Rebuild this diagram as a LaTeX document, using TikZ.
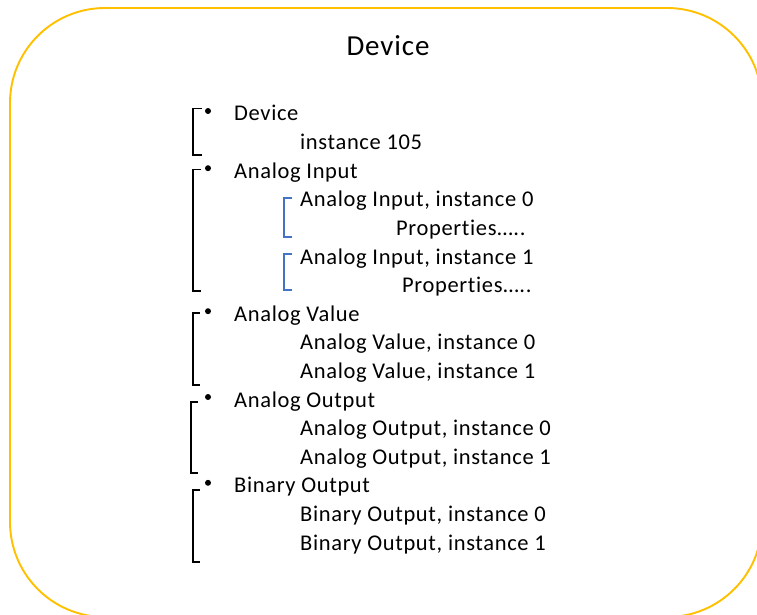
\documentclass[tikz,border=0pt]{standalone}
\usepackage{fontspec}
\setmainfont{Carlito}[Ligatures=NoCommon]
\newfontfamily\bodyfont{Carlito}[Ligatures=NoCommon,LetterSpace=2.9]
\newfontfamily\titlefont{Carlito}[Ligatures=NoCommon,LetterSpace=3.0]
\definecolor{frameyellow}{HTML}{FFC000}
\definecolor{bracketblue}{HTML}{4472C4}
\begin{document}
\begin{tikzpicture}[x=1pt,y=-1pt,
  body/.style={anchor=base west,inner sep=0pt,font=\bodyfont\fontsize{22.5}{26}\selectfont},
  title/.style={anchor=base,inner sep=0pt,font=\titlefont\fontsize{29}{33}\selectfont},
  bul/.style={circle,fill=black,inner sep=0pt,minimum size=6pt},
  blk/.style={draw=black,line width=1.4pt},
  blu/.style={draw=bracketblue,line width=1.4pt}]
\useasboundingbox (0,0) rectangle (757,615);
\begin{scope}
\clip (0,0) rectangle (757,615);
\draw[frameyellow,line width=1.9pt,rounded corners=95pt] (10,8) rectangle (762,617);
\end{scope}
\node[title] (ttl) at (388,55.7) {Device};
% items
\def\yy#1{121+#1*28.6}
\node[body] (l0) at (234,{\yy{0}}) {Device};
\node[body] (l1) at (300,{\yy{1}}) {instance 105};
\node[body] (l2) at (234,{\yy{2}}) {Analog Input};
\node[body] (l3) at (300,{\yy{3}}) {Analog Input, instance 0};
\node[body] (l4) at (396,{\yy{4}}) {Properties…..};
\node[body] (l5) at (300,{\yy{5}}) {Analog Input, instance 1};
\node[body] (l6) at (402,{\yy{6}}) {Properties…..};
\node[body] (l7) at (234,{\yy{7}}) {Analog Value};
\node[body] (l8) at (300,{\yy{8}}) {Analog Value, instance 0};
\node[body] (l9) at (300,{\yy{9}}) {Analog Value, instance 1};
\node[body] (l10) at (234,{\yy{10}}) {Analog Output};
\node[body] (l11) at (300,{\yy{11}}) {Analog Output, instance 0};
\node[body] (l12) at (300,{\yy{12}}) {Analog Output, instance 1};
\node[body] (l13) at (234,{\yy{13}}) {Binary Output};
\node[body] (l14) at (300,{\yy{14}}) {Binary Output, instance 0};
\node[body] (l15) at (300,{\yy{15}}) {Binary Output, instance 1};
% bullets
\node[bul] (b0) at (208,111) {};
\node[bul] (b1) at (208,{111+2*28.6}) {};
\node[bul] (b2) at (208,{111+7*28.6}) {};
\node[bul] (b3) at (208,{111+10*28.6}) {};
\node[bul] (b4) at (208,{111+13*28.6}) {};
% black brackets
\draw[blk] (202,108.5) -- (193,108.5) -- (193,155) -- (202,155);
\draw[blk] (201,169.5) -- (193,169.5) -- (193,291) -- (201,291);
\draw[blk] (200,313) -- (193,313) -- (193,385) -- (200,385);
\draw[blk] (198,402) -- (191,402) -- (191,473) -- (198,473);
\draw[blk] (200,490) -- (193,490) -- (193,562) -- (200,562);
% blue brackets
\draw[blu] (292,198) -- (284,198) -- (284,237) -- (292,237);
\draw[blu] (292,254) -- (284,254) -- (284,290) -- (292,290);
\end{tikzpicture}
\end{document}
